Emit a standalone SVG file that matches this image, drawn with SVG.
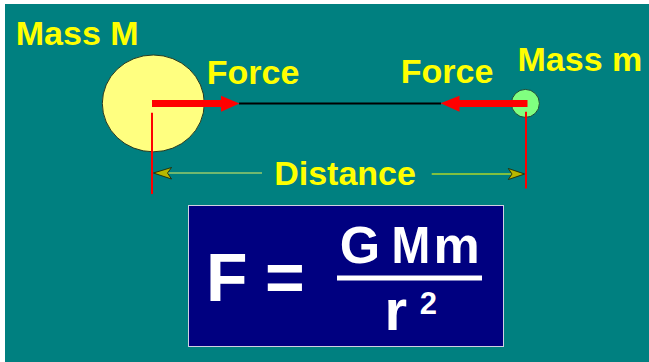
<svg xmlns="http://www.w3.org/2000/svg" width="649" height="362" viewBox="0 0 649 362">
  <style>
    .lbl { font-family: "Liberation Sans", Arial, sans-serif; font-weight: bold; font-size: 34px; fill: #ffff00; }
    .eq { font-family: "Liberation Sans", Arial, sans-serif; font-weight: bold; fill: #ffffff; }
    .red { fill: #ff0000; }
    .tick { stroke: #ff0000; stroke-width: 2; fill: none; }
    .dhead { fill: #b8b800; stroke: #1a1a00; stroke-width: 0.8; }
  </style>
  <rect x="0" y="0" width="649" height="362" fill="#ffffff"/>
  <rect x="5" y="4" width="644" height="358" fill="#008080"/>

  <g id="massM">
    <ellipse cx="153.3" cy="103.4" rx="51" ry="48.4" fill="#ffff80" stroke="#2a3a20" stroke-width="1"/>
    <text class="lbl" x="15.8" y="45">Mass M</text>
  </g>

  <g id="massm">
    <circle cx="525.4" cy="103.4" r="14" fill="#80ff80" stroke="#1e4a3a" stroke-width="1"/>
    <text class="lbl" x="517.5" y="71">Mass m</text>
  </g>

  <g id="connectors">
    <line x1="239" y1="103.5" x2="441" y2="103.5" stroke="#000000" stroke-width="2"/>
    <rect class="red" x="152" y="100" width="70" height="7"/>
    <polygon class="red" points="221,95.7 239.5,103.5 221,111.7"/>
    <rect class="red" x="459" y="100" width="68.5" height="7"/>
    <polygon class="red" points="459.5,95.7 440.5,103.3 459.5,111.7"/>
    <line class="tick" x1="152" y1="112.7" x2="152" y2="194"/>
    <line class="tick" x1="526" y1="111.7" x2="526" y2="188.5"/>
    <line x1="168" y1="173" x2="262" y2="173" stroke="#e0f060" stroke-width="1.2"/>
    <polygon class="dhead" points="153.5,173 171.5,167.5 167.5,173 171.5,179"/>
    <line x1="431.7" y1="174" x2="512" y2="174" stroke="#ffff00" stroke-width="1.2"/>
    <polygon class="dhead" points="524.5,174 508.3,168.5 512,174 508.3,179.5"/>
  </g>

  <g id="labels">
    <text class="lbl" x="206.8" y="84">Force</text>
    <text class="lbl" x="400.8" y="83">Force</text>
    <text class="lbl" x="274.2" y="184.5">Distance</text>
  </g>

  <g id="formula">
    <rect x="188.5" y="205.5" width="315" height="141" fill="#000080" stroke="#d0d0e0" stroke-width="1"/>
    <text class="eq" font-size="68" x="206" y="301">F</text>
    <text class="eq" font-size="68" x="265" y="301">=</text>
    <text class="eq" font-size="52" x="339.7" y="263">G</text>
    <text class="eq" font-size="52" x="391.6" y="263" textLength="38.8" lengthAdjust="spacingAndGlyphs">M</text>
    <text class="eq" font-size="52" x="433.5" y="263">m</text>
    <rect x="337" y="275.5" width="145" height="5" fill="#ffffff"/>
    <text class="eq" font-size="58" x="384.4" y="329.5">r</text>
    <text class="eq" font-size="31" x="419.7" y="314">2</text>
  </g>
</svg>
